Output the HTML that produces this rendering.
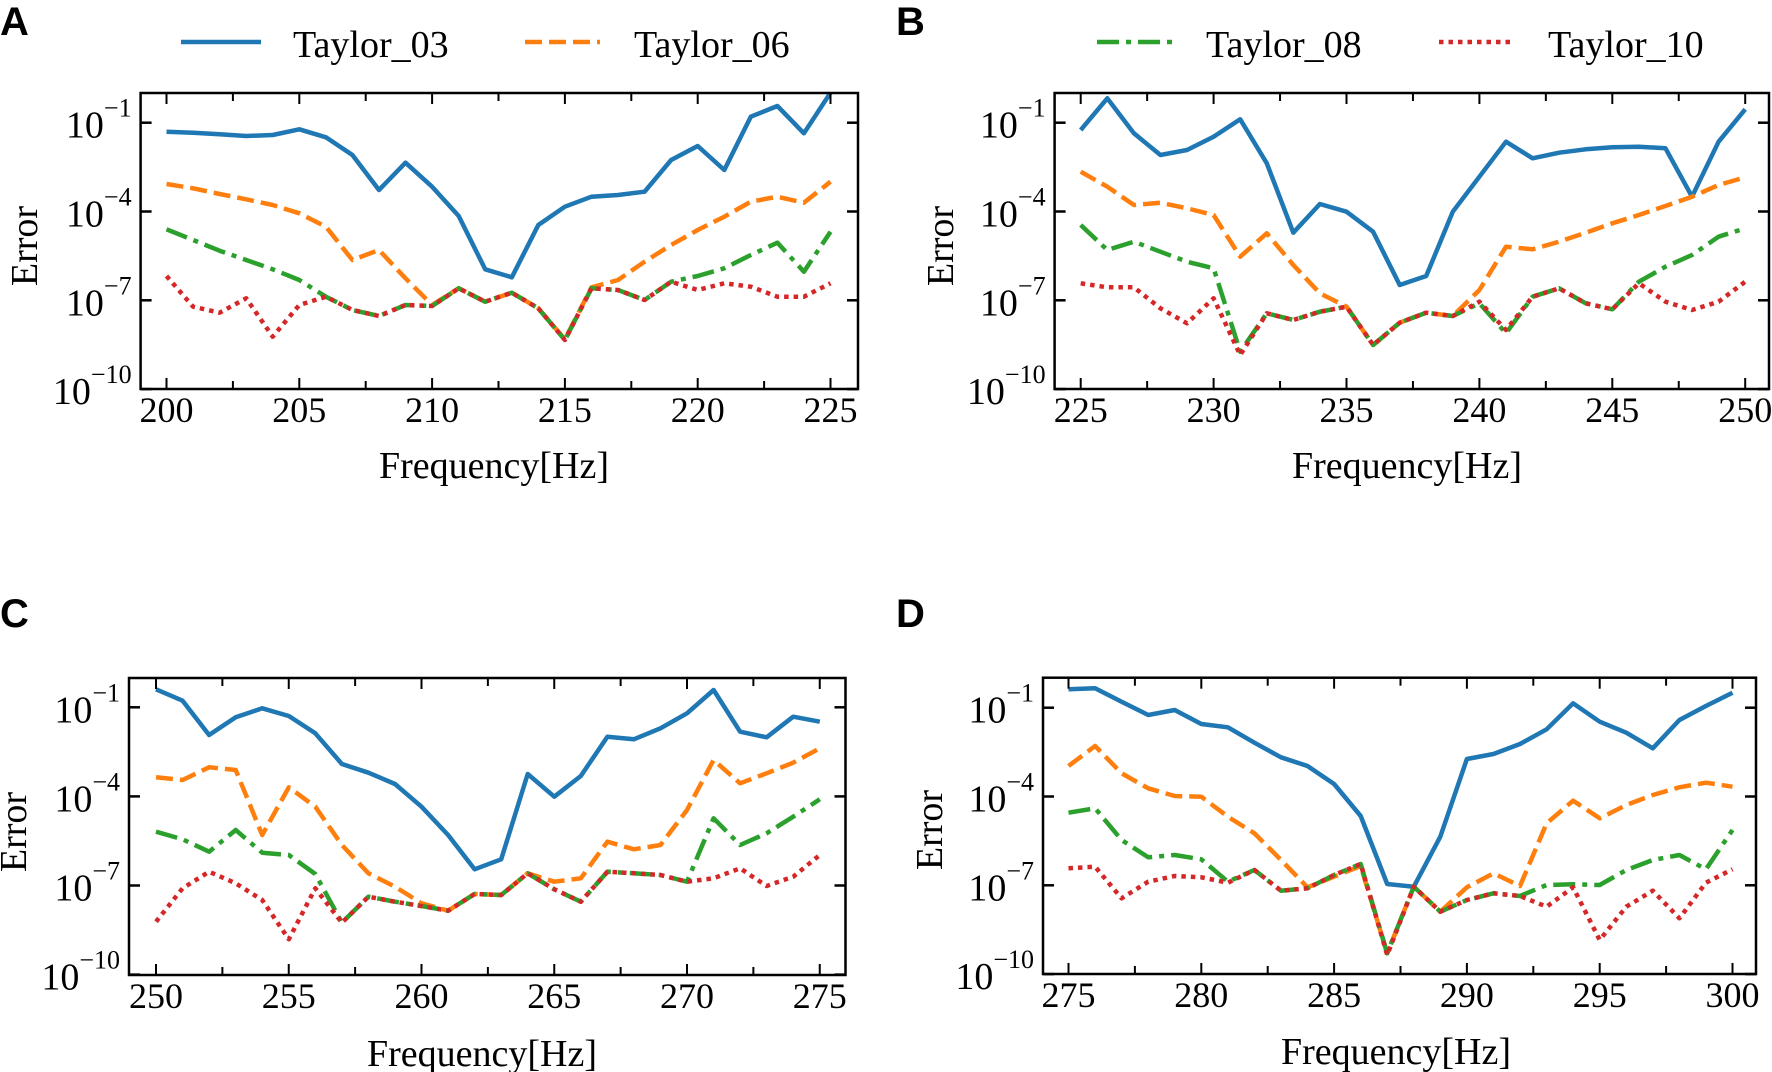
<!DOCTYPE html>
<html><head><meta charset="utf-8"><style>
html,body{margin:0;padding:0;background:#fff;}
svg{display:block;}
text{font-family:"Liberation Serif",serif;fill:#000;}
.lbl{font-family:"Liberation Sans",sans-serif;font-weight:bold;}
</style></head><body>
<svg id="s" width="1772" height="1072" viewBox="0 0 1772 1072" xmlns="http://www.w3.org/2000/svg">
<rect width="1772" height="1072" fill="#fff"/>
<text class="lbl" x="0" y="35" font-size="40">A</text>
<text class="lbl" x="896" y="35" font-size="40">B</text>
<text class="lbl" x="0" y="627" font-size="40">C</text>
<text class="lbl" x="896" y="627" font-size="40">D</text>
<line x1="181" y1="42" x2="261" y2="42" stroke="#1f77b4" stroke-width="4.5"/>
<text x="293" y="57" font-size="38">Taylor_03</text>
<line x1="525" y1="42" x2="600" y2="42" stroke="#ff7f0e" stroke-width="4.5" stroke-dasharray="17,7"/>
<text x="634" y="57" font-size="38">Taylor_06</text>
<line x1="1097" y1="42" x2="1172" y2="42" stroke="#2ca02c" stroke-width="4.5" stroke-dasharray="22,7,5,7"/>
<text x="1206" y="57" font-size="38">Taylor_08</text>
<line x1="1439" y1="42" x2="1514" y2="42" stroke="#d62728" stroke-width="4.5" stroke-dasharray="4.5,5"/>
<text x="1548" y="57" font-size="38">Taylor_10</text>
<g id="g"></g>
</svg>
<script>
var P=[
{bx0:140.6,bx1:858,by0:93,by1:389,x0:166.5,dx:26.56,h0:200,yo:0,t:122.7,dec:29.6,lb:422,ey:246,ex:37,fx:494,fy:478,
B:[395,398,403,408,405,388,412,465,570,488,560,648,808,832,675,620,590,585,575,480,438,510,350,318,400,278],
O:[552,565,582,598,615,640,680,780,750,835,915,865,905,878,925,1018,862,840,785,735,690,650,605,590,608,545],
G:[688,720,752,780,808,840,890,930,948,915,918,865,905,878,925,1020,865,870,900,845,828,805,765,728,815,695],
R:[828,920,938,895,1010,915,890,930,948,915,918,865,905,878,925,1020,865,870,900,845,870,850,860,890,890,850]},
{bx0:1054.6,bx1:1769,by0:93,by1:389,x0:1080.7,dx:26.58,h0:225,yo:0,t:122.7,dec:29.6,lb:422,ey:246,ex:953,fx:1407,fy:478,
B:[390,295,400,465,450,410,358,490,698,612,635,695,855,828,635,530,425,475,458,448,442,440,445,590,425,328],
O:[515,560,615,608,625,645,770,700,795,880,920,1035,968,938,948,870,740,748,725,698,670,645,618,590,555,532],
G:[675,750,725,755,785,805,1055,940,960,935,920,1035,968,938,948,910,1000,890,865,910,928,845,800,765,710,685],
R:[850,862,862,925,970,895,1065,940,960,935,920,1035,968,938,948,905,990,890,865,910,928,850,905,930,905,845]},
{bx0:129,bx1:845.5,by0:678,by1:975,x0:156,dx:26.55,h0:250,yo:600,t:707.3,dec:29.7,lb:1008,ey:832,ex:26,fx:482,fy:1066,
B:[268,302,405,352,325,348,400,492,518,552,620,705,808,778,522,590,528,410,418,385,340,270,395,412,350,365],
O:[532,540,502,510,705,562,620,735,820,860,910,932,882,885,820,845,835,725,748,735,630,480,550,520,488,445],
G:[695,718,755,690,758,765,822,968,890,905,918,932,882,885,820,868,905,815,820,825,845,655,735,700,650,598],
R:[965,865,815,850,900,1018,865,968,890,905,918,932,882,885,820,868,905,815,820,825,845,835,805,858,830,765]},
{bx0:1043,bx1:1756,by0:677.7,by1:974,x0:1068.5,dx:26.56,h0:275,yo:640,t:707.7,dec:29.6,lb:1007,ey:830,ex:942,fx:1396,fy:1064,
B:[148,145,185,225,210,252,262,308,352,378,432,528,732,740,590,357,342,312,268,190,245,278,325,240,198,158],
O:[378,318,400,445,468,470,530,580,660,742,710,678,940,740,815,742,700,738,550,482,535,495,465,442,428,440],
G:[518,505,600,652,645,658,725,690,752,745,705,672,940,740,815,780,760,768,735,733,735,690,660,645,688,570],
R:[685,680,775,725,708,712,728,690,752,745,705,672,945,740,815,780,760,768,800,742,900,800,752,835,728,688]}
];
var st={B:['#1f77b4',''],O:['#ff7f0e','17,7'],G:['#2ca02c','22,7,5,7'],R:['#d62728','4.5,5']};
var h='';
P.forEach(function(p){
 ['B','O','G','R'].forEach(function(k){
  var pts=p[k].map(function(v,i){return (p.x0+p.dx*i).toFixed(1)+','+(p.yo+v/3).toFixed(1)}).join(' ');
  h+='<polyline points="'+pts+'" fill="none" stroke="'+st[k][0]+'" stroke-width="4.5" stroke-linejoin="round"'+(st[k][1]?' stroke-dasharray="'+st[k][1]+'"':'')+'/>';
 });
 h+='<rect x="'+p.bx0+'" y="'+p.by0+'" width="'+(p.bx1-p.bx0)+'" height="'+(p.by1-p.by0)+'" fill="none" stroke="#000" stroke-width="2.5"/>';
 for(var i=0;i<=10;i++){
  var x=p.x0+p.dx*2.5*i, L=(i%2==0)?11:8;
  h+='<line x1="'+x+'" y1="'+p.by1+'" x2="'+x+'" y2="'+(p.by1-L)+'" stroke="#000" stroke-width="2"/>';
  h+='<line x1="'+x+'" y1="'+p.by0+'" x2="'+x+'" y2="'+(p.by0+L)+'" stroke="#000" stroke-width="2"/>';
  if(i%2==0) h+='<text x="'+x+'" y="'+p.lb+'" font-size="36" text-anchor="middle">'+(p.h0+i*2.5)+'</text>';
 }
 [-1,-4,-7,-10].forEach(function(e,j){
  var y=p.t+p.dec*3*j;
  h+='<line x1="'+p.bx0+'" y1="'+y+'" x2="'+(p.bx0+11)+'" y2="'+y+'" stroke="#000" stroke-width="2.5"/>';
  h+='<line x1="'+p.bx1+'" y1="'+y+'" x2="'+(p.bx1-11)+'" y2="'+y+'" stroke="#000" stroke-width="2.5"/>';
  h+='<text x="'+(p.bx0-9)+'" y="'+(y+15)+'" font-size="38" text-anchor="end">10<tspan dy="-21" font-size="26">\u2212'+(-e)+'</tspan></text>';
 });
 h+='<text transform="translate('+p.ex+','+p.ey+') rotate(-90)" font-size="38" text-anchor="middle">Error</text>';
 h+='<text x="'+p.fx+'" y="'+p.fy+'" font-size="38" text-anchor="middle">Frequency[Hz]</text>';
});
document.getElementById('g').innerHTML=h;
</script>
</body></html>
